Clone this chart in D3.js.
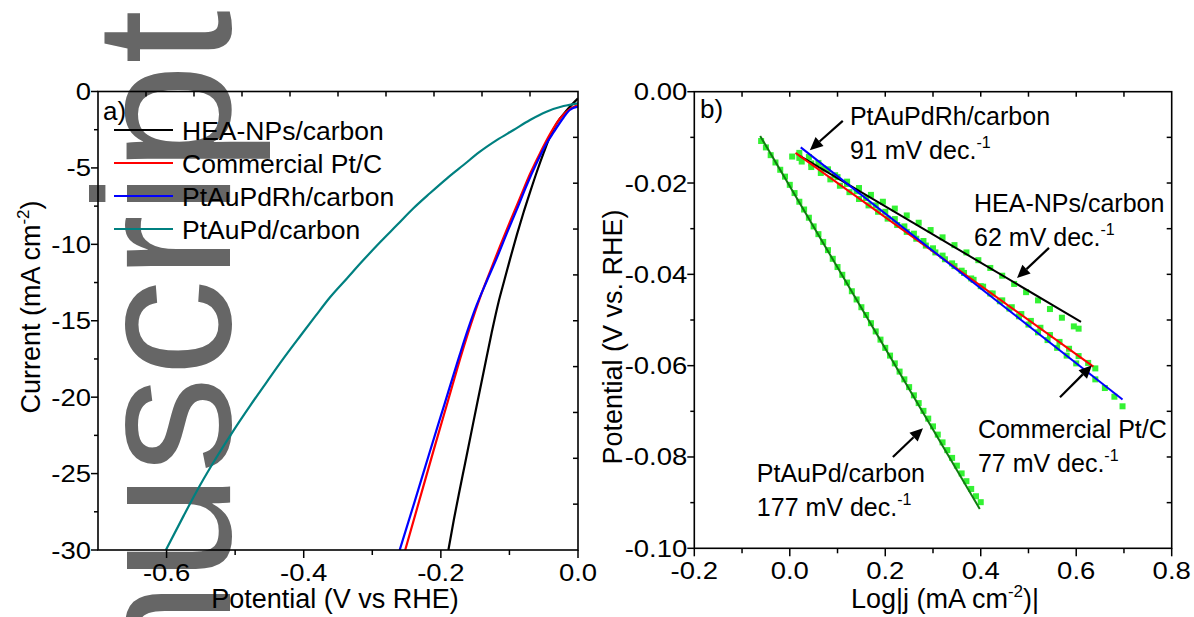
<!DOCTYPE html>
<html>
<head>
<meta charset="utf-8">
<script src="https://cdn.jsdelivr.net/npm/d3@7"></script>
<style>
  body { margin: 0; background: #fff; }
  svg { display: block; font-family: "Liberation Sans", Arial, sans-serif; }
</style>
</head>
<body>
<svg id="chart" width="1194" height="617"></svg>
<script>
"use strict";

// ---------- panel a) polarization curves (potential V, current mA cm-2) ----------
const heaPot = [0, -0.016, -0.031, -0.041, -0.050, -0.060, -0.070, -0.080, -0.089, -0.099, -0.108, -0.116, -0.126, -0.137, -0.147, -0.156, -0.165, -0.174, -0.181, -0.189];
const heaCur = [-0.45, -1.21, -2.08, -2.96, -4.00, -5.25, -6.60, -8.00, -9.35, -10.95, -12.45, -13.80, -15.80, -18.20, -20.40, -22.40, -24.40, -26.40, -28.00, -30.0];

const ptcPot = [0, -0.012, -0.026, -0.041, -0.055, -0.070, -0.084, -0.099, -0.114, -0.128, -0.143, -0.156, -0.169, -0.190, -0.211, -0.231, -0.252];
const ptcCur = [-0.88, -1.15, -1.75, -2.80, -4.00, -5.40, -6.90, -8.50, -10.15, -11.75, -13.50, -15.20, -17.05, -20.30, -23.55, -26.70, -30.0];

const rhPot = [0, -0.012, -0.021, -0.036, -0.046, -0.060, -0.075, -0.089, -0.104, -0.118, -0.133, -0.148, -0.160, -0.173, -0.195, -0.217, -0.238, -0.260];
const rhCur = [-0.99, -1.21, -1.70, -2.70, -3.40, -4.65, -6.15, -7.70, -9.30, -10.85, -12.40, -14.00, -15.50, -17.30, -20.50, -23.70, -26.80, -30.0];

const pdPot = [0, -0.021, -0.046, -0.070, -0.094, -0.118, -0.143, -0.167, -0.191, -0.216, -0.240, -0.264, -0.288, -0.313, -0.337, -0.361, -0.383, -0.405, -0.430, -0.453, -0.478, -0.502, -0.526, -0.551, -0.575, -0.601];
const pdCur = [-0.77, -0.95, -1.32, -1.86, -2.52, -3.17, -3.94, -4.81, -5.68, -6.66, -7.64, -8.74, -9.83, -11.03, -12.23, -13.43, -14.70, -16.00, -17.50, -18.95, -20.55, -22.15, -23.85, -25.75, -27.75, -30.0];

const legendNames = ["HEA-NPs/carbon", "Commercial Pt/C", "PtAuPdRh/carbon", "PtAuPd/carbon"];
const legendColors = ["#000000", "#ff0000", "#0000ff", "#008080"];

const aXTicks = [-0.6, -0.4, -0.2, 0.0];
const aXMinor = [-0.5, -0.3, -0.1];
const aYTicks = [0, -5, -10, -15, -20, -25, -30];
const aYMinor = [-2.5, -7.5, -12.5, -17.5, -22.5, -27.5];

// ---------- panel b) Tafel plots (log|j|, potential V) ----------
const heaLogJ = [0.020, 0.045, 0.070, 0.095, 0.120, 0.145, 0.170, 0.195, 0.220, 0.245, 0.270, 0.295, 0.320, 0.345, 0.370, 0.395, 0.420, 0.445, 0.470, 0.495, 0.520, 0.545, 0.570, 0.595, 0.605];
const heaEta = [-0.0145, -0.0157, -0.0168, -0.0183, -0.0197, -0.0211, -0.0226, -0.0241, -0.0256, -0.0271, -0.0287, -0.0303, -0.0319, -0.0336, -0.0352, -0.0369, -0.0386, -0.0403, -0.0421, -0.0439, -0.0457, -0.0476, -0.0495, -0.0514, -0.0519];

const ptcLogJ = [0.005, 0.025, 0.045, 0.065, 0.085, 0.105, 0.125, 0.145, 0.165, 0.185, 0.205, 0.225, 0.245, 0.265, 0.285, 0.305, 0.325, 0.345, 0.365, 0.385, 0.405, 0.425, 0.445, 0.465, 0.485, 0.505, 0.525, 0.545, 0.565, 0.585, 0.605, 0.625, 0.640];
const ptcEta = [-0.0142, -0.0153, -0.0165, -0.0178, -0.0192, -0.0206, -0.0220, -0.0235, -0.0249, -0.0263, -0.0278, -0.0292, -0.0307, -0.0322, -0.0337, -0.0352, -0.0367, -0.0382, -0.0397, -0.0412, -0.0427, -0.0442, -0.0457, -0.0472, -0.0487, -0.0502, -0.0517, -0.0533, -0.0548, -0.0563, -0.0579, -0.0594, -0.0606];

const rhLogJ = [0.020, 0.040, 0.060, 0.080, 0.100, 0.120, 0.140, 0.160, 0.180, 0.200, 0.220, 0.240, 0.260, 0.280, 0.300, 0.320, 0.340, 0.360, 0.380, 0.400, 0.420, 0.440, 0.460, 0.480, 0.500, 0.520, 0.540, 0.560, 0.580, 0.600, 0.620, 0.640, 0.660, 0.680, 0.697];
const rhEta = [-0.0134, -0.0143, -0.0156, -0.0170, -0.0187, -0.0202, -0.0218, -0.0233, -0.0249, -0.0263, -0.0279, -0.0295, -0.0311, -0.0327, -0.0343, -0.0359, -0.0376, -0.0392, -0.0409, -0.0426, -0.0442, -0.0459, -0.0475, -0.0492, -0.0510, -0.0527, -0.0544, -0.0561, -0.0578, -0.0595, -0.0612, -0.0630, -0.0649, -0.0668, -0.0689];

const pdLogJ = [-0.06, -0.05, -0.04, -0.03, -0.02, -0.01, 0.00, 0.01, 0.02, 0.03, 0.04, 0.05, 0.06, 0.07, 0.08, 0.09, 0.10, 0.11, 0.12, 0.13, 0.14, 0.15, 0.16, 0.17, 0.18, 0.19, 0.20, 0.21, 0.22, 0.23, 0.24, 0.25, 0.26, 0.27, 0.28, 0.29, 0.30, 0.31, 0.32, 0.33, 0.34, 0.35, 0.36, 0.37, 0.38, 0.39, 0.40];
const pdEta = [-0.0108, -0.0122, -0.0139, -0.0155, -0.0171, -0.0186, -0.0204, -0.0222, -0.0241, -0.0258, -0.0276, -0.0295, -0.0312, -0.0329, -0.0347, -0.0366, -0.0384, -0.0401, -0.0418, -0.0437, -0.0455, -0.0472, -0.0489, -0.0507, -0.0525, -0.0543, -0.0561, -0.0578, -0.0595, -0.0613, -0.0630, -0.0647, -0.0665, -0.0682, -0.0699, -0.0716, -0.0733, -0.0751, -0.0768, -0.0785, -0.0802, -0.0819, -0.0836, -0.0853, -0.0870, -0.0886, -0.0899];

// linear fits: start / end points in data coords
const fitNames = ["HEA-NPs/carbon", "Commercial Pt/C", "PtAuPdRh/carbon", "PtAuPd/carbon"];
const fitColors = ["#000000", "#ff0000", "#0000ff", "#107c10"];
const fitStart = [[0.020, -0.0140], [0.012, -0.0134], [0.023, -0.0122], [-0.062, -0.0097]];
const fitEnd = [[0.610, -0.0504], [0.636, -0.0602], [0.697, -0.0674], [0.398, -0.0914]];

// annotations (data coords of panel b)
const noteTitles = ["PtAuPdRh/carbon", "HEA-NPs/carbon", "Commercial Pt/C", "PtAuPd/carbon"];
const noteSlopes = ["91 mV dec.", "62 mV dec.", "77 mV dec.", "177 mV dec."];
const notePos = [[0.126, -0.0073], [0.386, -0.0264], [0.394, -0.0758], [-0.069, -0.0855]];
const arrowTail = [[0.111, -0.0064], [0.543, -0.0342], [0.566, -0.0669], [0.216, -0.0800]];
const arrowHead = [[0.042, -0.0128], [0.476, -0.0408], [0.633, -0.0599], [0.279, -0.0737]];

const bXTicks = [-0.2, 0.0, 0.2, 0.4, 0.6, 0.8];
const bXMinor = [-0.1, 0.1, 0.3, 0.5, 0.7];
const bYTicks = [0.00, -0.02, -0.04, -0.06, -0.08, -0.10];
const bYMinor = [-0.01, -0.03, -0.05, -0.07, -0.09];

const svg = d3.select("#chart");

// watermark behind the figure
svg.append("text")
    .attr("transform", "translate(230,10) rotate(-90)")
    .attr("text-anchor", "end")
    .attr("font-size", 194)
    .attr("fill", "#666666")
    .text("nuscript");

// scales
const ax = d3.scaleLinear().domain([-0.7, 0]).range([98, 578]);
const ay = d3.scaleLinear().domain([-30, 0]).range([550, 91.5]);
const bx = d3.scaleLinear().domain([-0.2, 0.8]).range([694.3, 1171.7]);
const by = d3.scaleLinear().domain([-0.10, 0]).range([548.3, 91.7]);

const defs = svg.append("defs");
function clip(id, xs, ys) {
    defs.append("clipPath").attr("id", id).append("rect")
        .attr("x", xs.range()[0]).attr("y", ys.range()[1])
        .attr("width", xs.range()[1] - xs.range()[0])
        .attr("height", ys.range()[0] - ys.range()[1]);
}
clip("clipA", ax, ay);
clip("clipB", bx, by);

// tick label: the figure's tick font is a bit wide, so stretch it horizontally
function tickLabel(g, x, y, txt, anchor) {
    g.append("text")
        .attr("transform", `translate(${x},${y}) scale(1.17,1)`)
        .attr("text-anchor", anchor)
        .attr("font-size", 23.5)
        .text(txt);
}

// frame, ticks and tick labels for one panel
function drawFrame(xs, ys, xMajor, xMinor, yMajor, yMinor, xFmt, yFmt) {
    const g = svg.append("g");
    const x0 = xs.range()[0], x1 = xs.range()[1];
    const y0 = ys.range()[0], y1 = ys.range()[1];
    const tk = g.append("g").attr("stroke", "#000").attr("stroke-width", 1.5);

    xMajor.forEach(v => tk.append("line").attr("x1", xs(v)).attr("x2", xs(v)).attr("y1", y0).attr("y2", y0 + 8));
    xMinor.forEach(v => tk.append("line").attr("x1", xs(v)).attr("x2", xs(v)).attr("y1", y0).attr("y2", y0 + 5));
    yMajor.forEach(v => tk.append("line").attr("x1", x0 - 7).attr("x2", x0).attr("y1", ys(v)).attr("y2", ys(v)));
    yMinor.forEach(v => tk.append("line").attr("x1", x0 - 4).attr("x2", x0).attr("y1", ys(v)).attr("y2", ys(v)));

    // mirrored top / right axes: ten even divisions, ticks pointing in
    const div = d3.scaleLinear().domain([0, 10]);
    const tx = div.copy().range([x0, x1]), ty = div.copy().range([y0, y1]);
    d3.range(1, 10).forEach(i => {
        tk.append("line").attr("x1", tx(i)).attr("x2", tx(i)).attr("y1", y1).attr("y2", y1 + 5);
        tk.append("line").attr("x1", x1).attr("x2", x1 - 5).attr("y1", ty(i)).attr("y2", ty(i));
    });

    g.append("rect")
        .attr("x", x0).attr("y", y1).attr("width", x1 - x0).attr("height", y0 - y1)
        .attr("fill", "none").attr("stroke", "#000").attr("stroke-width", 1.6);

    xMajor.forEach(v => tickLabel(g, xs(v), y0 + 31, xFmt(v), "middle"));
    yMajor.forEach(v => tickLabel(g, x0 - 7, ys(v) + 8.5, yFmt(v), "end"));
    return g;
}

// axis title with a superscript
function titleText(sel, parts) {
    parts.forEach(p => {
        const t = sel.append("tspan").text(p.t);
        if (p.sup) t.attr("font-size", 17).attr("dy", -11);
        if (p.down) t.attr("dy", 11);
    });
}

// ================= panel a =================
const lineA = d3.line().x(d => ax(d[0])).y(d => ay(d[1])).curve(d3.curveMonotoneX);
const curvesA = [[heaPot, heaCur], [ptcPot, ptcCur], [rhPot, rhCur], [pdPot, pdCur]];
const ga = svg.append("g").attr("clip-path", "url(#clipA)");
curvesA.forEach((c, i) => {
    ga.append("path")
        .datum(d3.zip(c[0], c[1]))
        .attr("d", lineA)
        .attr("fill", "none")
        .attr("stroke", legendColors[i])
        .attr("stroke-width", 2.2);
});

drawFrame(ax, ay, aXTicks, aXMinor, aYTicks, aYMinor, d => d.toFixed(1), d => String(d));

svg.append("text").attr("x", 103).attr("y", 120).attr("font-size", 26).text("a)");

// legend
const leg = svg.append("g");
legendNames.forEach((name, i) => {
    const y = 130 + i * 33;
    leg.append("line").attr("x1", 114).attr("x2", 173).attr("y1", y).attr("y2", y)
        .attr("stroke", legendColors[i]).attr("stroke-width", 2.2);
    leg.append("text").attr("x", 182).attr("y", y + 10).attr("font-size", 26.5).text(name);
});

titleText(svg.append("text")
    .attr("transform", "translate(40,307) rotate(-90)")
    .attr("text-anchor", "middle").attr("font-size", 27),
    [{t: "Current (mA cm"}, {t: "-2", sup: true}, {t: ")", down: true}]);

svg.append("text").attr("x", 335).attr("y", 608).attr("text-anchor", "middle")
    .attr("font-size", 27).text("Potential (V vs RHE)");

// ================= panel b =================
const gb = svg.append("g").attr("clip-path", "url(#clipB)");
const pointSets = [[heaLogJ, heaEta], [ptcLogJ, ptcEta], [rhLogJ, rhEta], [pdLogJ, pdEta]];
pointSets.forEach(s => {
    gb.append("g").selectAll("rect")
        .data(d3.zip(s[0], s[1]))
        .enter().append("rect")
        .attr("x", d => bx(d[0]) - 3)
        .attr("y", d => by(d[1]) - 3)
        .attr("width", 6).attr("height", 6)
        .attr("fill", "#33f233");
});

fitNames.forEach((n, i) => {
    gb.append("line")
        .attr("x1", bx(fitStart[i][0])).attr("y1", by(fitStart[i][1]))
        .attr("x2", bx(fitEnd[i][0])).attr("y2", by(fitEnd[i][1]))
        .attr("stroke", fitColors[i]).attr("stroke-width", 2);
});

drawFrame(bx, by, bXTicks, bXMinor, bYTicks, bYMinor, d => d.toFixed(1), d => d.toFixed(2));

svg.append("text").attr("x", 700).attr("y", 118).attr("font-size", 26).text("b)");

// annotations with arrows
noteTitles.forEach((t, i) => {
    const x = bx(notePos[i][0]), y = by(notePos[i][1]);
    svg.append("text").attr("x", x).attr("y", y).attr("font-size", 25).text(t);
    const s = svg.append("text").attr("x", x).attr("y", y + 34).attr("font-size", 25);
    s.append("tspan").text(noteSlopes[i]);
    s.append("tspan").attr("font-size", 16).attr("dy", -11).text("-1");

    const xa = bx(arrowTail[i][0]), ya = by(arrowTail[i][1]);
    const xb = bx(arrowHead[i][0]), yb = by(arrowHead[i][1]);
    const ang = Math.atan2(yb - ya, xb - xa);
    const len = 13, wid = 6;
    const bxp = xb - len * Math.cos(ang), byp = yb - len * Math.sin(ang);
    svg.append("line").attr("x1", xa).attr("y1", ya).attr("x2", bxp).attr("y2", byp)
        .attr("stroke", "#000").attr("stroke-width", 2.2);
    svg.append("path")
        .attr("d", `M${xb},${yb}L${bxp - wid * Math.sin(ang)},${byp + wid * Math.cos(ang)}L${bxp + wid * Math.sin(ang)},${byp - wid * Math.cos(ang)}Z`)
        .attr("fill", "#000");
});

titleText(svg.append("text")
    .attr("transform", "translate(622,337) rotate(-90)")
    .attr("text-anchor", "middle").attr("font-size", 27),
    [{t: "Potential (V vs. RHE)"}]);

titleText(svg.append("text")
    .attr("x", 945).attr("y", 608).attr("text-anchor", "middle").attr("font-size", 27),
    [{t: "Log|j (mA cm"}, {t: "-2", sup: true}, {t: ")|", down: true}]);
</script>
</body>
</html>
